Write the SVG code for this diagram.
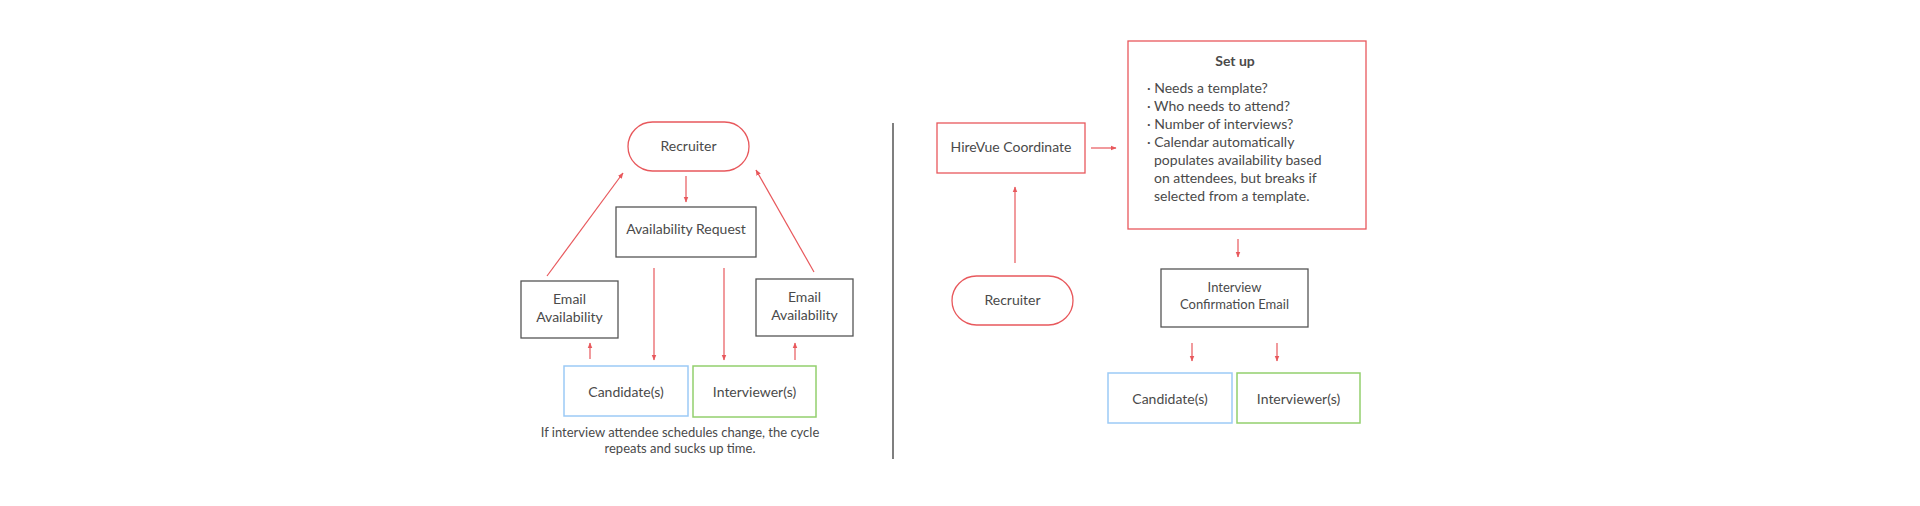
<svg xmlns="http://www.w3.org/2000/svg" width="1920" height="506" viewBox="0 0 1920 506">
<defs>
<marker id="ah" viewBox="0 0 10 10" refX="9" refY="5" markerWidth="5" markerHeight="5" orient="auto"><path d="M0,1 L10,5 L0,9 z" fill="#e8585c"/></marker>
<style>
text{font-family:Lato,"Liberation Sans",sans-serif;font-size:14px;fill:#4a4a4a}
.c{text-anchor:middle}
.red{fill:#fff;stroke:#e8585c;stroke-width:1.3}
.gray{fill:#fff;stroke:#555;stroke-width:1.3}
.blue{fill:#fff;stroke:#9ccaf6;stroke-width:1.5}
.green{fill:#fff;stroke:#93cf6d;stroke-width:1.5}
.ln{stroke:#e8585c;stroke-width:1.2;fill:none;marker-end:url(#ah)}
.sm{font-size:13px}
</style>
</defs>
<rect width="1920" height="506" fill="#fff"/>
<g id="connectors">
<line class="ln" x1="686" y1="176" x2="686" y2="202"/>
<line class="ln" x1="547" y1="276" x2="623" y2="173"/>
<line class="ln" x1="814" y1="272" x2="756" y2="170"/>
<line class="ln" x1="654" y1="268" x2="654" y2="360"/>
<line class="ln" x1="724" y1="268" x2="724" y2="360"/>
<line class="ln" x1="590" y1="359" x2="590" y2="343"/>
<line class="ln" x1="795" y1="360" x2="795" y2="343"/>
<line class="ln" x1="1091" y1="148" x2="1116" y2="148"/>
<line class="ln" x1="1015" y1="263" x2="1015" y2="187"/>
<line class="ln" x1="1238" y1="239" x2="1238" y2="257"/>
<line class="ln" x1="1192" y1="343" x2="1192" y2="361"/>
<line class="ln" x1="1277" y1="343" x2="1277" y2="361"/>
</g>
<line x1="893" y1="123" x2="893" y2="459" stroke="#555" stroke-width="1.5"/>
<g id="l-recruiter"><rect class="red" x="628" y="122" width="121" height="49" rx="24.5"/><text class="c" x="688.5" y="151">Recruiter</text></g>
<g id="l-avreq"><rect class="gray" x="616" y="207" width="140" height="50"/><text class="c" x="686" y="234">Availability Request</text></g>
<g id="l-email1"><rect class="gray" x="521" y="281" width="97" height="57"/><text class="c" x="569.5" y="304">Email</text><text class="c" x="569.5" y="322">Availability</text></g>
<g id="l-email2"><rect class="gray" x="756" y="279" width="97" height="57"/><text class="c" x="804.5" y="302">Email</text><text class="c" x="804.5" y="320">Availability</text></g>
<g id="l-cand"><rect class="blue" x="564" y="366" width="124" height="50"/><text class="c" x="626" y="397">Candidate(s)</text></g>
<g id="l-int"><rect class="green" x="693" y="366" width="123" height="51"/><text class="c" x="754.5" y="397">Interviewer(s)</text></g>
<g id="caption"><text class="c sm" x="680" y="437">If interview attendee schedules change, the cycle</text><text class="c sm" x="680" y="453">repeats and sucks up time.</text></g>
<g id="r-hirevue"><rect class="red" x="937" y="123" width="148" height="50"/><text class="c" x="1011" y="152">HireVue Coordinate</text></g>
<g id="r-setup"><rect class="red" x="1128" y="41" width="238" height="188"/>
<text class="c" x="1235" y="66" style="font-weight:bold">Set up</text>
<text x="1147" y="93">· Needs a template?</text>
<text x="1147" y="111">· Who needs to attend?</text>
<text x="1147" y="129">· Number of interviews?</text>
<text x="1147" y="147">· Calendar automatically</text>
<text x="1154" y="165">populates availability based</text>
<text x="1154" y="183">on attendees, but breaks if</text>
<text x="1154" y="201">selected from a template.</text>
</g>
<g id="r-conf"><rect class="gray" x="1161" y="269" width="147" height="58"/><text class="c sm" x="1234.5" y="292">Interview</text><text class="c sm" x="1234.5" y="309">Confirmation Email</text></g>
<g id="r-recruiter"><rect class="red" x="952" y="276" width="121" height="49" rx="24.5"/><text class="c" x="1012.5" y="305">Recruiter</text></g>
<g id="r-cand"><rect class="blue" x="1108" y="373" width="124" height="50"/><text class="c" x="1170" y="404">Candidate(s)</text></g>
<g id="r-int"><rect class="green" x="1237" y="373" width="123" height="50"/><text class="c" x="1298.5" y="404">Interviewer(s)</text></g>
</svg>
